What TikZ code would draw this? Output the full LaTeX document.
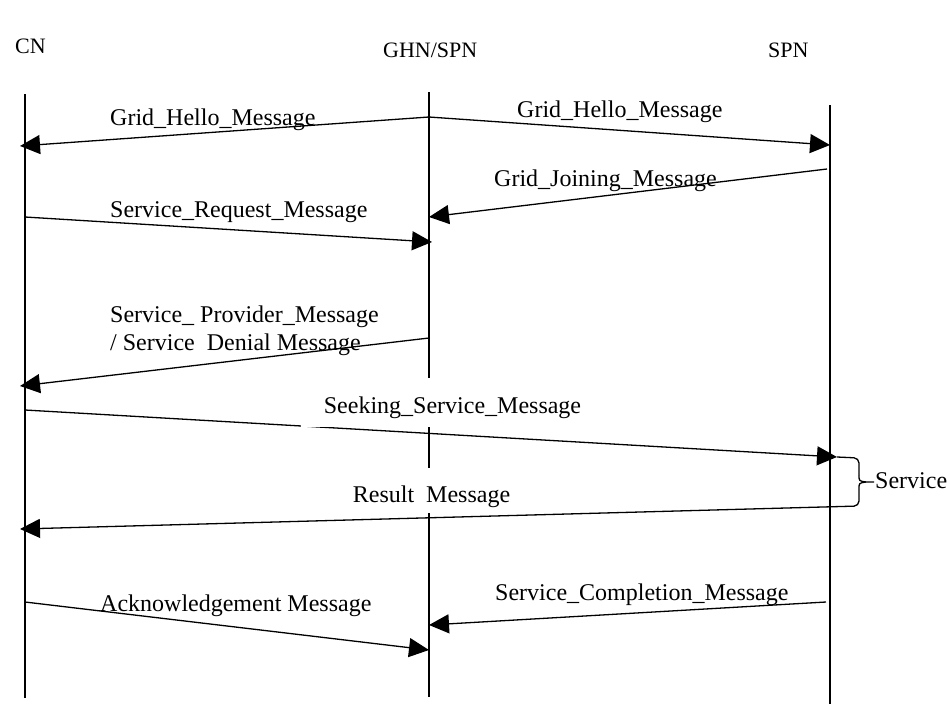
\documentclass[tikz,border=0pt]{standalone}
\usepackage{fontspec}
\setmainfont{Liberation Serif}
\usetikzlibrary{arrows.meta}
\begin{document}
\begin{tikzpicture}[x=1pt,y=-1pt,
  lifeline/.style={line width=1.3pt},
  msg/.style={line width=1.3pt,-{Triangle[length=20pt,width=19pt]}},
  plain/.style={line width=1.3pt},
  lbl/.style={font=\fontsize{24}{27}\selectfont,inner sep=0pt,anchor=base west},
  head/.style={font=\fontsize{22}{26}\selectfont,inner sep=0pt,anchor=base west},
  boxlbl/.style={font=\fontsize{24}{27}\selectfont,fill=white,anchor=base}]
\useasboundingbox (0,0) rectangle (950,705);

% column headers
\node[head] (cnh)  at (15,53)  {CN};
\node[head] (ghnh) at (383,57) {GHN/SPN};
\node[head] (spnh) at (768,57) {SPN};

% lifelines
\coordinate (cn-top)  at (25,94);   \coordinate (cn-bot)  at (25,698);
\coordinate (ghn-top) at (429,92);  \coordinate (ghn-bot) at (429,697);
\coordinate (spn-top) at (830,105); \coordinate (spn-bot) at (830,704);
\draw[lifeline] (cn-top) -- (cn-bot);
\draw[lifeline] (ghn-top) -- (ghn-bot);
\draw[lifeline] (spn-top) -- (spn-bot);

% message end points
\coordinate (ghn-hello) at (429,117);
\coordinate (cn-hello)  at (20,146);
\coordinate (spn-hello) at (830,145);
\coordinate (spn-join)  at (827,169);
\coordinate (ghn-join)  at (429,217);
\coordinate (cn-req)    at (25,217);
\coordinate (ghn-req)   at (432,242);
\coordinate (ghn-prov)  at (429,338);
\coordinate (cn-prov)   at (20,386);
\coordinate (cn-seek)   at (25,410);
\coordinate (spn-seek)  at (837,457);
\coordinate (cn-res)    at (20,529);
\coordinate (cn-ack)    at (25,602);
\coordinate (ghn-ack)   at (429,650);
\coordinate (spn-comp)  at (826,602);
\coordinate (ghn-comp)  at (429,625);

% brace points
\coordinate (br-top)  at (859,458);
\coordinate (br-up)   at (859,475);
\coordinate (br-mid)  at (866,482);
\coordinate (br-tip)  at (874,482);
\coordinate (br-low)  at (859,489);
\coordinate (br-bot)  at (859,506);

% messages
\draw[msg] (ghn-hello) -- (cn-hello);
\draw[msg] (ghn-hello) -- (spn-hello);
\draw[msg] (spn-join) -- (ghn-join);
\draw[msg] (cn-req) -- (ghn-req);
\draw[msg] (ghn-prov) -- (cn-prov);
\draw[msg] (cn-seek) -- (spn-seek);
\draw[msg] (cn-ack) -- (ghn-ack);
\draw[msg] (spn-comp) -- (ghn-comp);

% service brace and result message
\draw[plain,rounded corners=5pt] (spn-seek) -- (br-top) -- (br-up);
\draw[plain] (br-up) .. controls (859,481) .. (br-mid) -- (br-tip);
\draw[plain] (br-low) .. controls (859,483) .. (br-mid);
\draw[msg,rounded corners=5pt] (br-low) -- (br-bot) -- (cn-res);

% labels
\node[lbl] (l-hello1) at (110,125) {Grid\_Hello\_Message};
\node[lbl] (l-hello2) at (517,117) {Grid\_Hello\_Message};
\node[lbl] (l-join)   at (494,186) {Grid\_Joining\_Message};
\node[lbl] (l-req)    at (110,217) {Service\_Request\_Message};
\node[lbl] (l-prov1)  at (110,322) {Service\_ Provider\_Message};
\node[lbl] (l-prov2)  at (110,350) {/ Service\hspace{6pt} Denial Message};
\node[boxlbl,inner xsep=23pt,inner ysep=0pt,text height=35pt,text depth=14pt]
  (l-seek) at (452.5,413) {Seeking\_Service\_Message};
\node[boxlbl,inner xsep=20pt,inner ysep=0pt,text height=34pt,text depth=11pt]
  (l-res) at (431.5,502) {Result\hspace{6pt} Message};
\node[lbl] (l-serv)   at (875,488) {Service};
\node[lbl] (l-ack)    at (100,611) {Acknowledgement Message};
\node[lbl] (l-comp)   at (495,600) {Service\_Completion\_Message};
\end{tikzpicture}
\end{document}
